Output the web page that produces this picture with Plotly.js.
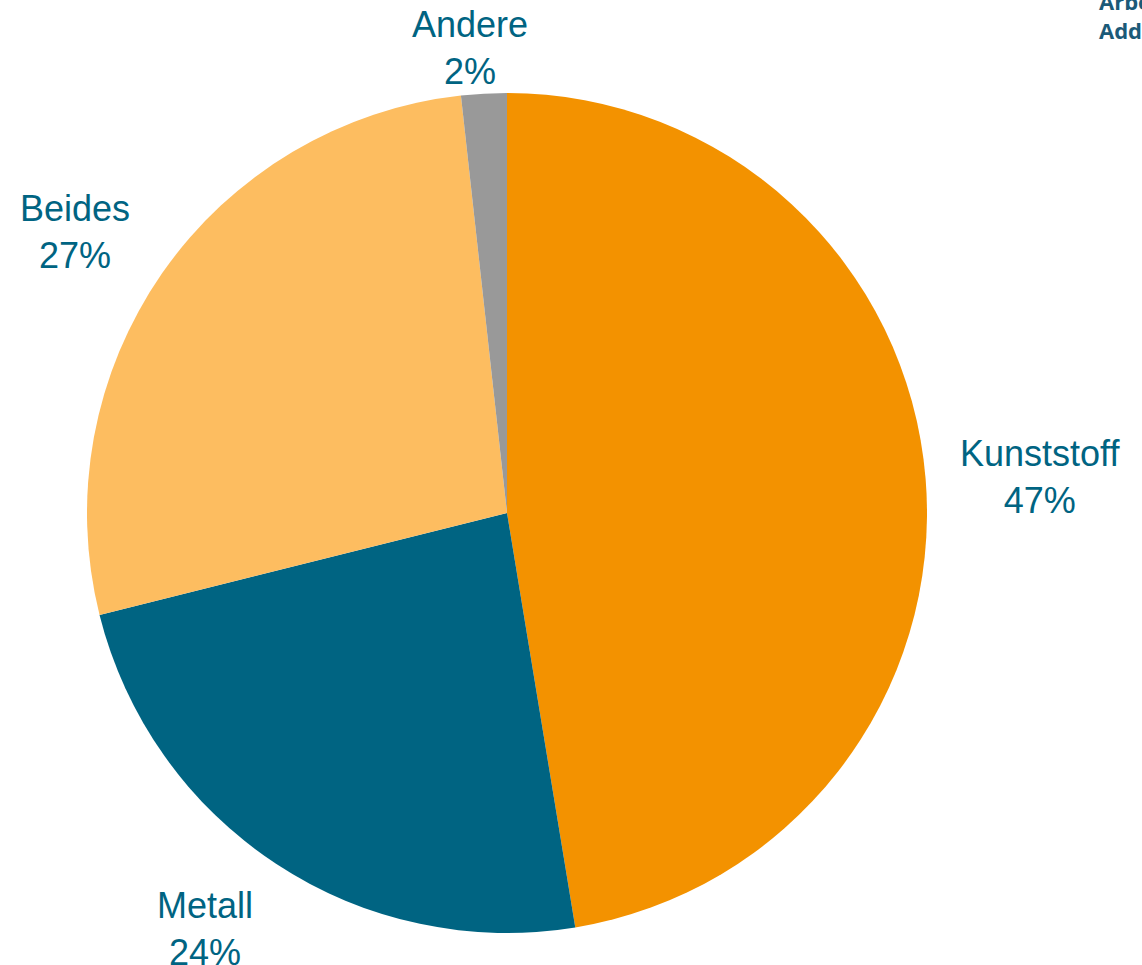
<!DOCTYPE html>
<html><head><meta charset="utf-8">
<script src="https://cdn.plot.ly/plotly-3.0.1.min.js"></script>
<style>html,body{margin:0;padding:0;background:#fff}#chart{width:1142px;height:965px}</style>
</head><body><div id="chart"></div>
<script>
const categories = ["Kunststoff", "Metall", "Beides", "Andere"];
const values = [47.4, 23.7, 27.15, 1.75];
const colors = ["#F39200", "#006482", "#FDBD60", "#999999"];
const labelPos = [[1040, 477], [205, 929], [75, 232], [470, 48]];

const W = 1142, H = 965;
const total = values.reduce((a, b) => a + b, 0);
const annotations = categories.map((c, i) => ({
  text: c + "<br>" + Math.round(values[i] / total * 100) + "%",
  x: labelPos[i][0] / W, y: 1 - labelPos[i][1] / H,
  xref: "paper", yref: "paper", xanchor: "center", yanchor: "middle",
  showarrow: false, align: "center",
  font: {family: "Liberation Sans, Arial, sans-serif", size: 36, color: "#006482"}
}));
annotations.push({
  text: "<b>Arbeitsgemeinschaft<br>Additive</b>",
  x: 1097 / W, y: 1 + 16 / H, xref: "paper", yref: "paper",
  xanchor: "left", yanchor: "top", showarrow: false, align: "left",
  font: {family: "Open Sans, sans-serif", size: 22, color: "#1B5A78"}
});

const cx = 507, cy = 513, r = 420;
Plotly.newPlot("chart", [{
  type: "pie", labels: categories, values: values, sort: false,
  direction: "clockwise", rotation: 0,
  marker: {colors: colors, line: {color: "#ffffff", width: 0}},
  textinfo: "none", hoverinfo: "label+percent",
  domain: {x: [(cx - r) / W, (cx + r) / W], y: [(H - cy - r) / H, (H - cy + r) / H]}
}], {
  width: W, height: H, margin: {l: 0, r: 0, t: 0, b: 0},
  showlegend: false, paper_bgcolor: "#ffffff",
  annotations: annotations
}, {displayModeBar: false, staticPlot: true});
</script></body></html>
